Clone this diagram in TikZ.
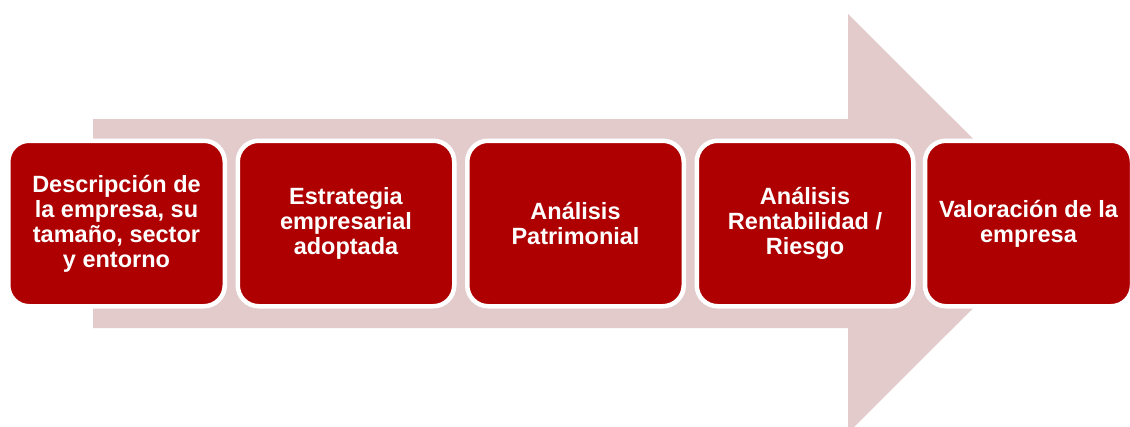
\documentclass[tikz,border=0pt]{standalone}
\usepackage{fontspec}
\setmainfont{Liberation Sans}
\definecolor{boxred}{HTML}{AE0000}
\definecolor{arrowpink}{HTML}{E3CBCC}
\begin{document}
\begin{tikzpicture}[x=1pt,y=-1pt,
  stage/.style={draw=white, line width=4.5pt, fill=boxred, rounded corners=21pt,
    minimum width=216.5pt, minimum height=165.5pt, inner sep=0pt,
    text=white, align=center,
    font=\fontsize{23.5}{25}\selectfont\bfseries},
]
\useasboundingbox (0,0) rectangle (1130,426);
\begin{scope}
\clip (0,0) rectangle (1130,426);
% background arrow
\fill[arrowpink] (93,119) -- (848,119) -- (848,14) -- (1058,223.5)
  -- (848,433) -- (848,328) -- (93,328) -- cycle;
% process stages
\node[stage] (s1) at (116.5,223.5) {Descripción de\\la empresa, su\\tamaño, sector\\y entorno};
\node[stage] (s2) at (346,223.5) {Estrategia\\empresarial\\adoptada};
\node[stage] (s3) at (575.5,223.5) {Análisis\\Patrimonial};
\node[stage] (s4) at (805,223.5) {Análisis\\Rentabilidad /\\Riesgo};
\node[stage, minimum width=207pt] (s5) at (1028.5,223.5) {Valoración de la\\empresa};
\end{scope}
\end{tikzpicture}
\end{document}
